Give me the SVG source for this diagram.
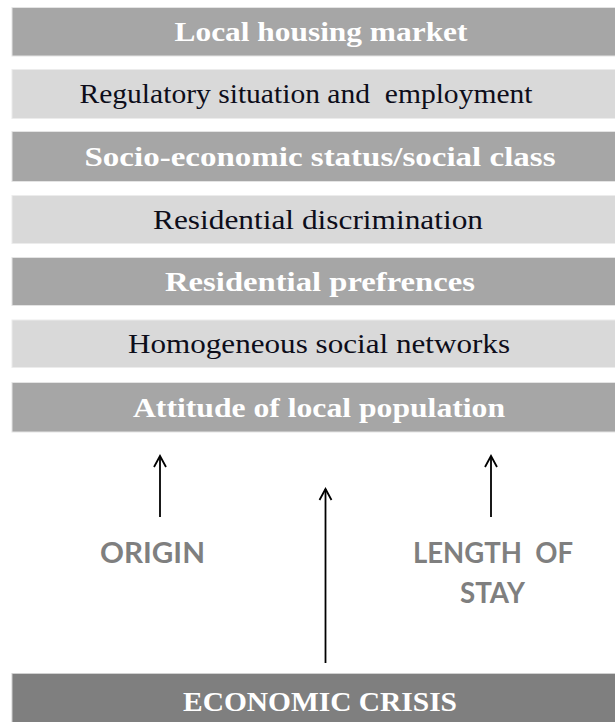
<svg xmlns="http://www.w3.org/2000/svg" width="615" height="722" viewBox="0 0 615 722">
<style>
.dark{fill:#a6a6a6;stroke:#e4e4e4;stroke-width:1}
.light{fill:#d9d9d9;stroke:#ececec;stroke-width:1}
.crisis{fill:#7f7f7f;stroke:#d0d0d0;stroke-width:1}
.tb{font-family:"Liberation Serif","DejaVu Serif",serif;font-weight:bold;font-size:28px;fill:#ffffff;text-anchor:middle}
.tr{font-family:"Liberation Serif","DejaVu Serif",serif;font-size:28px;fill:#0d0d1a;text-anchor:middle;white-space:pre}
.lab{font-family:Lato,"Liberation Sans",sans-serif;font-weight:bold;font-size:29px;fill:#7f7f7f;text-anchor:middle;white-space:pre}
.arr{stroke:#000;stroke-width:1.8;fill:none}
</style>
<defs>
<marker id="ah" markerUnits="userSpaceOnUse" markerWidth="20" markerHeight="20" viewBox="-14 -10 20 20" refX="0" refY="0" orient="auto">
<path d="M-11,-6 L0,0 L-11,6" fill="none" stroke="#000" stroke-width="1.8"/>
</marker>
</defs>
<rect width="615" height="722" fill="#ffffff"/>
<g id="n1"><rect class="dark" x="12" y="7.5" width="610" height="48.5"/><text class="tb" x="321" y="41" textLength="293" lengthAdjust="spacingAndGlyphs">Local housing market</text></g>
<g id="n2"><rect class="light" x="12" y="69.5" width="610" height="49"/><text class="tr" x="306" y="103" textLength="453" lengthAdjust="spacingAndGlyphs">Regulatory situation and  employment</text></g>
<g id="n3"><rect class="dark" x="12" y="131.5" width="610" height="50"/><text class="tb" x="320" y="165.5" textLength="471" lengthAdjust="spacingAndGlyphs">Socio-economic status/social class</text></g>
<g id="n4"><rect class="light" x="12" y="195.5" width="610" height="48"/><text class="tr" x="318" y="229" textLength="330" lengthAdjust="spacingAndGlyphs">Residential discrimination</text></g>
<g id="n5"><rect class="dark" x="12" y="257.5" width="610" height="48"/><text class="tb" x="320" y="291" textLength="310" lengthAdjust="spacingAndGlyphs">Residential prefrences</text></g>
<g id="n6"><rect class="light" x="12" y="320" width="610" height="47.5"/><text class="tr" x="319" y="353" textLength="382" lengthAdjust="spacingAndGlyphs">Homogeneous social networks</text></g>
<g id="n7"><rect class="dark" x="12" y="382.5" width="610" height="49.5"/><text class="tb" x="319" y="416.5" textLength="372" lengthAdjust="spacingAndGlyphs">Attitude of local population</text></g>
<g id="n8"><text class="lab" x="152.5" y="563" textLength="105" lengthAdjust="spacingAndGlyphs">ORIGIN</text></g>
<g id="n9"><text class="lab" x="493" y="563" textLength="160" lengthAdjust="spacingAndGlyphs">LENGTH  OF</text><text class="lab" x="492.5" y="603" textLength="65" lengthAdjust="spacingAndGlyphs">STAY</text></g>
<g id="n10"><rect class="crisis" x="12" y="673.5" width="610" height="60"/><text class="tb" x="320" y="711" font-size="31" textLength="274" lengthAdjust="spacingAndGlyphs">ECONOMIC CRISIS</text></g>
<g id="connectors">
<line class="arr" x1="160" y1="517" x2="160" y2="456" marker-end="url(#ah)"/>
<line class="arr" x1="325.5" y1="663" x2="325.5" y2="489" marker-end="url(#ah)"/>
<line class="arr" x1="491" y1="517" x2="491" y2="456" marker-end="url(#ah)"/>
</g>
</svg>
